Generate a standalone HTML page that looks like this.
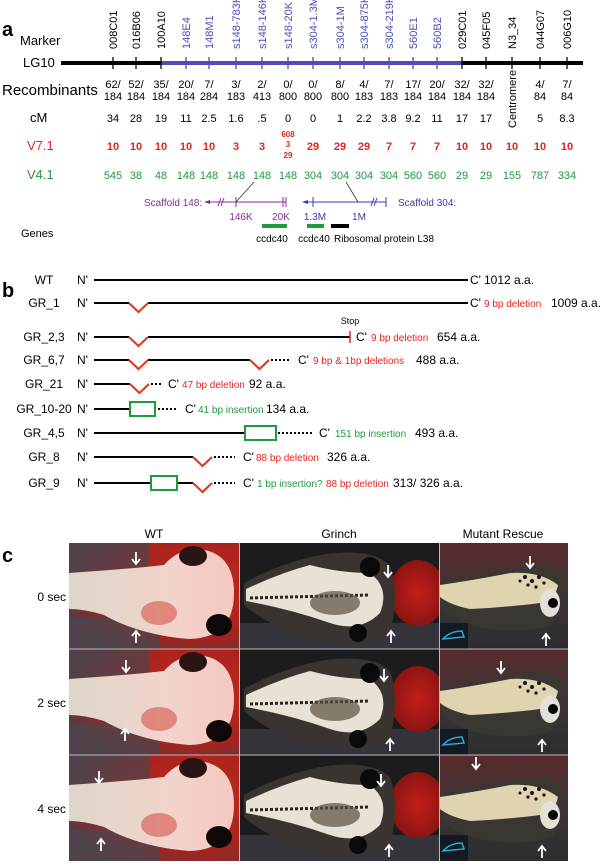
<!DOCTYPE html>
<html><head><meta charset="utf-8"><style>
html,body{margin:0;padding:0;background:#fff}
svg{display:block;font-family:"Liberation Sans",Arial,sans-serif}
</style></head><body>
<svg id="fig" width="600" height="864" viewBox="0 0 600 864" xmlns="http://www.w3.org/2000/svg">
<defs>
  <radialGradient id="wtbg" cx="0.75" cy="0.4" r="0.8"><stop offset="0" stop-color="#c42a22"/><stop offset="0.6" stop-color="#a8221c"/><stop offset="1" stop-color="#5a3a40"/></radialGradient>
  <linearGradient id="wtbody" x1="0" x2="1"><stop offset="0" stop-color="#ddd6c8"/><stop offset="0.6" stop-color="#f2d4cc"/><stop offset="1" stop-color="#f5c8c0"/></linearGradient>
  <radialGradient id="grred" cx="0.5" cy="0.5" r="0.5"><stop offset="0" stop-color="#c41e1a"/><stop offset="1" stop-color="#8a1512"/></radialGradient>
  <linearGradient id="mbg" x1="0" y1="0" x2="0" y2="1"><stop offset="0" stop-color="#5a2a2c"/><stop offset="0.5" stop-color="#3a3538"/><stop offset="1" stop-color="#2e2c30"/></linearGradient>
  <g id="wtcell">
    <rect x="0" y="0" width="170" height="106" fill="url(#wtbg)"/>
    <rect x="0" y="0" width="80" height="40" fill="#4a4650" opacity="0.7"/>
    <rect x="0" y="75" width="90" height="31" fill="#4a4650" opacity="0.7"/>
    <path d="M0 30 Q60 26 95 22 Q110 5 130 6 Q165 10 165 50 Q165 95 120 96 Q70 92 35 72 Q15 66 0 66 Z" fill="url(#wtbody)"/>
    <ellipse cx="90" cy="70" rx="18" ry="12" fill="#d03a30" opacity="0.5"/>
    <ellipse cx="124" cy="13" rx="14" ry="10" fill="#2a1414"/>
    <ellipse cx="150" cy="82" rx="13" ry="11" fill="#0e0808"/>
  </g>
  <g id="grcell">
    <rect x="0" y="0" width="199" height="106" fill="#1c1b1e"/>
    <rect x="0" y="80" width="199" height="26" fill="#35343a"/>
    <ellipse cx="178" cy="50" rx="28" ry="33" fill="url(#grred)"/>
    <path d="M4 40 Q40 20 80 12 Q130 4 150 22 Q160 50 150 90 Q120 104 80 98 Q30 85 4 62 Z" fill="#3a3430"/>
    <path d="M6 46 Q40 30 70 22 Q100 30 130 30 Q150 45 140 70 Q120 90 90 80 Q50 66 6 58 Z" fill="#e8e2d6"/>
    <path d="M10 55 L130 52" stroke="#2a241e" stroke-width="3" stroke-dasharray="3 2"/>
    <ellipse cx="95" cy="60" rx="25" ry="12" fill="#5a5040" opacity="0.7"/>
    <circle cx="130" cy="24" r="10" fill="#0a0a0a"/>
    <circle cx="118" cy="90" r="9" fill="#0a0a0a"/>
  </g>
  <g id="mcell">
    <rect x="0" y="0" width="128" height="106" fill="url(#mbg)"/>
    <path d="M0 40 Q40 32 70 26 Q100 18 120 30 Q126 60 112 82 Q80 92 40 84 Q12 78 0 62 Z" fill="#3a3632"/>
    <path d="M0 42 Q40 36 70 30 Q100 28 118 42 Q115 58 100 60 Q70 64 30 66 Q10 62 0 54 Z" fill="#e0d4b0"/>
    <ellipse cx="110" cy="60" rx="10" ry="14" fill="#e4e0d8"/>
    <circle cx="113" cy="60" r="5" fill="#050505"/>
    <g fill="#1a1410"><circle cx="85" cy="34" r="2"/><circle cx="92" cy="38" r="2"/><circle cx="99" cy="34" r="2"/><circle cx="88" cy="42" r="1.6"/><circle cx="96" cy="44" r="1.6"/><circle cx="104" cy="40" r="1.6"/><circle cx="80" cy="38" r="1.5"/></g>
    <rect x="0" y="80" width="28" height="26" fill="#141a22"/>
    <path d="M3 96 Q10 88 22 88 L24 94 Z" fill="none" stroke="#2aa8d8" stroke-width="1.5"/>
  </g>
</defs>

<!-- ===== Panel a ===== -->
<text x="2" y="36" font-size="20" font-weight="bold">a</text>
<text x="20" y="45" font-size="13">Marker</text>
<text x="23" y="67" font-size="13">LG10</text>
<line x1="61" y1="63" x2="583" y2="63" stroke="#000" stroke-width="4"/>
<line x1="161" y1="63" x2="462" y2="63" stroke="#4a4fb8" stroke-width="4"/>
<g id="markers"></g>
<text x="2" y="95" font-size="15">Recombinants</text>
<text x="30" y="122" font-size="13">cM</text>
<text x="27" y="150" font-size="13" fill="#e8231e">V7.1</text>
<text x="27" y="179" font-size="13" fill="#1f9a3c">V4.1</text>
<text transform="translate(516,128) rotate(-90)" font-size="11">Centromere</text>
<g font-size="8" font-weight="bold" fill="#e8231e" text-anchor="middle">
  <text x="288" y="137">608</text><text x="288" y="147">3</text><text x="288" y="158">29</text>
</g>

<!-- scaffolds -->
<g>
  <line x1="254" y1="182" x2="236" y2="202" stroke="#333" stroke-width="0.8"/>
  <text x="144" y="206" font-size="10" fill="#8a2a9a">Scaffold 148:</text>
  <line x1="206" y1="202" x2="286" y2="202" stroke="#8a2a9a" stroke-width="1"/>
  <path d="M204 202 L210 200 L210 204 Z" fill="#8a2a9a"/>
  <line x1="236" y1="197" x2="236" y2="207" stroke="#8a2a9a"/>
  <line x1="283" y1="197" x2="283" y2="207" stroke="#8a2a9a"/>
  <line x1="286" y1="197" x2="286" y2="207" stroke="#8a2a9a"/>
  <line x1="218" y1="206" x2="221" y2="198" stroke="#8a2a9a"/><line x1="221" y1="206" x2="224" y2="198" stroke="#8a2a9a"/>
  <text x="241" y="220" font-size="10" fill="#8a2a9a" text-anchor="middle">146K</text>
  <text x="281" y="220" font-size="10" fill="#8a2a9a" text-anchor="middle">20K</text>
</g>
<g>
  <line x1="346" y1="182" x2="358" y2="202" stroke="#333" stroke-width="0.8"/>
  <line x1="304" y1="202" x2="386" y2="202" stroke="#3a3ab0" stroke-width="1"/>
  <path d="M302 202 L308 200 L308 204 Z" fill="#3a3ab0"/>
  <line x1="313" y1="197" x2="313" y2="207" stroke="#3a3ab0"/>
  <line x1="386" y1="197" x2="386" y2="207" stroke="#3a3ab0"/>
  <line x1="371" y1="206" x2="374" y2="198" stroke="#3a3ab0"/><line x1="374" y1="206" x2="377" y2="198" stroke="#3a3ab0"/>
  <text x="398" y="206" font-size="10" fill="#3a3ab0">Scaffold 304:</text>
  <text x="315" y="220" font-size="10" fill="#3a3ab0" text-anchor="middle">1.3M</text>
  <text x="359" y="220" font-size="10" fill="#3a3ab0" text-anchor="middle">1M</text>
</g>
<text x="21" y="237" font-size="11">Genes</text>
<rect x="262" y="224" width="25" height="4" fill="#1f9a3c"/>
<rect x="307" y="224" width="17" height="4" fill="#1f9a3c"/>
<rect x="331" y="224" width="18" height="4" fill="#000"/>
<g font-size="10">
  <text x="272" y="242" text-anchor="middle">ccdc40</text>
  <text x="314" y="242" text-anchor="middle">ccdc40</text>
  <text x="334" y="242">Ribosomal protein L38</text>
</g>

<!-- ===== Panel b ===== -->
<text x="2" y="297" font-size="20" font-weight="bold">b</text>
<g id="constructs"></g>

<!-- ===== Panel c ===== -->
<text x="2" y="562" font-size="20" font-weight="bold">c</text>
<g font-size="12" text-anchor="middle">
  <text x="154" y="538">WT</text><text x="339" y="538">Grinch</text><text x="503" y="538">Mutant Rescue</text>
</g>
<g id="photos"></g>

<script>
const NS = "http://www.w3.org/2000/svg";
// ---- panel a data ----
const markerNames = ["008C01","016B06","100A10","148E4","148M1","s148-783K","s148-146K","s148-20K","s304-1.3M","s304-1M","s304-875K","s304-219K","560E1","560B2","029C01","045F05","N3_34","044G07","006G10"];
const markerX = [113,136,161,186,209,236,262,288,313,340,364,389,413,437,462,486,512,540,567];
const markerBlue = [false,false,false,true,true,true,true,true,true,true,true,true,true,true,false,false,false,false,false];
const recombA = ["62/","52/","35/","20/","7/","3/","2/","0/","0/","8/","4/","7/","17/","20/","32/","32/","","4/","7/"];
const recombB = ["184","184","184","184","284","183","413","800","800","800","183","183","184","184","184","184","","84","84"];
const cMvals = ["34","28","19","11","2.5","1.6",".5","0","0","1","2.2","3.8","9.2","11","17","17","","5","8.3"];
const v71 = ["10","10","10","10","10","3","3","","29","29","29","7","7","7","10","10","10","10","10"];
const v41 = ["545","38","48","148","148","148","148","148","304","304","304","304","560","560","29","29","155","787","334"];

function mk(tag, attrs, txt, parent){ const e=document.createElementNS(NS,tag); for(const k in attrs) e.setAttribute(k,attrs[k]); if(txt!==undefined) e.textContent=txt; parent.appendChild(e); return e; }
const mg = document.getElementById("markers");
markerNames.forEach((n,i)=>{
  const x = markerX[i];
  const t = mk("line",{x1:x,y1:57,x2:x,y2:69,stroke:markerBlue[i]?"#4a4fb8":"#000","stroke-width":1.3},undefined,mg);
  
  
  const l = mk("text",{transform:`translate(${x+4},49) rotate(-90)`,"font-size":11,fill:markerBlue[i]?"#4a4fb8":"#000"},n,mg);
  
  
  const r1 = mk("text",{x:x,y:88,"font-size":11,"text-anchor":"middle"},recombA[i],mg);
  
  
  const r2 = mk("text",{x:x,y:100,"font-size":11,"text-anchor":"middle"},recombB[i],mg);
  
  
  const c = mk("text",{x:x,y:122,"font-size":11,"text-anchor":"middle"},cMvals[i],mg);
  
  
  const v7 = mk("text",{x:x,y:150,"font-size":11,"font-weight":"bold",fill:"#e8231e","text-anchor":"middle"},v71[i],mg);
  
  
  const v4 = mk("text",{x:x,y:179,"font-size":11,fill:"#1f9a3c","text-anchor":"middle"},v41[i],mg);
  
  
});

// ---- panel b data ----
const cNames = ["WT","GR_1","GR_2,3","GR_6,7","GR_21","GR_10-20","GR_4,5","GR_8","GR_9"];
const cY = [280,303,337,360,384,409,433,457,483];
const cLineEnd = [468,468,350,268,130,130,245,193,151];
const cDotsEnd = [0,0,0,291,163,178,314,235,235];
const cVs = [[],[129],[129],[129,250],[130],[],[],[193],[193]];
const cBoxes = [[],[],[],[],[],[130],[245],[],[151]];
const cRed = ["","9 bp deletion","9 bp deletion","9 bp & 1bp  deletions","47 bp deletion","","","88 bp deletion","88 bp deletion"];
const cGreen = ["","","","","","41 bp insertion","151 bp insertion","","1 bp insertion?"];
const cLen = ["1012 a.a.","1009 a.a.","654 a.a.","488 a.a.","92 a.a.","134 a.a.","493 a.a.","326 a.a.","313/ 326 a.a."];
const cCx = [470,470,356,298,168,185,319,243,243];
const cRedX = [0,484,371,313,182,0,0,256,326];
const cGreenX = [0,0,0,0,0,198,335,0,257];
const cLenX = [484,551,437,416,249,266,415,327,393];

const cg = document.getElementById("constructs");
cNames.forEach((n,i)=>{
  const y=cY[i];
  const g = mk("g",{},undefined,cg);
  
  
  mk("text",{x:44,y:y+4,"font-size":12,"text-anchor":"middle"},n,g);
  mk("text",{x:77,y:y+4,"font-size":12},"N'",g);
  let end = cLineEnd[i];
  if(i===8){ mk("line",{x1:94,y1:y,x2:193,y2:y,stroke:"#000","stroke-width":2},undefined,g); end=212; }
  else mk("line",{x1:94,y1:y,x2:end,y2:y,stroke:"#000","stroke-width":2},undefined,g);
  cVs[i].forEach(vx=>{
    mk("line",{x1:vx,y1:y,x2:vx+19,y2:y,stroke:"#fff","stroke-width":3},undefined,g);
    const v = mk("polyline",{points:`${vx},${y} ${vx+9.5},${y+9} ${vx+19},${y}`,fill:"none",stroke:"#e8371e","stroke-width":2.2},undefined,g);
    
    
  });
  cBoxes[i].forEach(bx=>{
    const w = i===6?31:(i===5?25:26);
    const b = mk("rect",{x:bx,y:y-7,width:w,height:14,fill:"#fff",stroke:"#1f9a3c","stroke-width":2},undefined,g);
    
    
  });
  if(cDotsEnd[i]){
    const ds = cVs[i].length? cVs[i][cVs[i].length-1]+20 : (cBoxes[i].length? cBoxes[i][0]+(i===6?32:27) : end);
    mk("line",{x1:ds+1,y1:y,x2:cDotsEnd[i],y2:y,stroke:"#000","stroke-width":2,"stroke-dasharray":"2 2"},undefined,g);
  }
  if(i===2){ mk("line",{x1:350,y1:y-6,x2:350,y2:y+6,stroke:"#e8231e","stroke-width":1.5},undefined,g); mk("text",{x:350,y:y-13,"font-size":9,"text-anchor":"middle"},"Stop",g); }
  mk("text",{x:cCx[i],y:y+4,"font-size":12},"C'",g);
  if(cGreen[i]) mk("text",{x:cGreenX[i],y:y+4,"font-size":10,fill:"#1f9a3c"},cGreen[i],g);
  if(cRed[i]) mk("text",{x:cRedX[i],y:y+4,"font-size":10,fill:"#e8231e"},cRed[i],g);
  mk("text",{x:cLenX[i],y:y+4,"font-size":12},cLen[i],g);
});

// ---- panel c ----
const rowLabels = ["0 sec","2 sec","4 sec"];
const rowTop = [543,649,755];
const colX = [69,240,440];
const cellIds = ["wtcell","grcell","mcell"];
const colNames = ["wt","grinch","mutant-rescue"];
const downArrows = [[[136,558],[388,571],[530,562]],[[126,666],[384,675],[501,667]],[[99,777],[381,780],[476,763]]];
const upArrows = [[[136,637],[391,637],[546,640]],[[125,735],[390,745],[542,746]],[[101,845],[389,851],[542,852]]];
const pg = document.getElementById("photos");
rowLabels.forEach((lab,r)=>{
  const t = mk("text",{x:66,y:rowTop[r]+58,"font-size":12,"text-anchor":"end"},lab,pg);
  
  
  cellIds.forEach((id,c)=>{
    const u = mk("use",{href:"#"+id,x:colX[c],y:rowTop[r]},undefined,pg);
    
    
    const [dx,dy]=downArrows[r][c];
    const a1 = mk("path",{d:`M${dx} ${dy-6} L${dx} ${dy+5} M${dx-4} ${dy+1} L${dx} ${dy+6} L${dx+4} ${dy+1}`,stroke:"#fff","stroke-width":1.8,fill:"none"},undefined,pg);
    
    
    const [ux,uy]=upArrows[r][c];
    const a2 = mk("path",{d:`M${ux} ${uy+6} L${ux} ${uy-5} M${ux-4} ${uy-1} L${ux} ${uy-6} L${ux+4} ${uy-1}`,stroke:"#fff","stroke-width":1.8,fill:"none"},undefined,pg);
    
    
  });
});
[649,755].forEach(y=>{ mk("line",{x1:69,y1:y,x2:568,y2:y,stroke:"#bbb","stroke-width":1},undefined,pg); });
[239.5,439.5].forEach(x=>{ mk("line",{x1:x,y1:543,x2:x,y2:861,stroke:"#bbb","stroke-width":1},undefined,pg); });
</script>
</svg>
</body></html>
